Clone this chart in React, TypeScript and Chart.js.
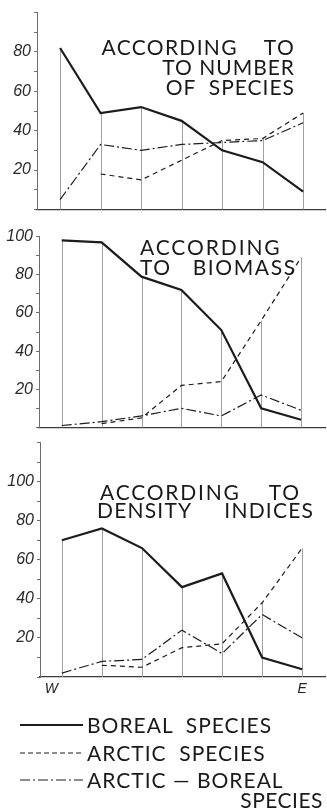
import React, { useEffect, useRef } from 'react';
import { Chart, registerables } from 'chart.js';

Chart.register(...registerables);

// ---- data ----
const STATIONS = ['W', '', '', '', '', '', 'E'];

const SPECIES_BOREAL = [82, 49, 52, 45, 30, 24, 9];
const SPECIES_ARCTIC = [null, 18, 15, 25, 35, 36, 49];
const SPECIES_ARCTIC_BOREAL = [5, 33, 30, 33, 34, 35, 44];

const BIOMASS_BOREAL = [98, 97, 79, 72, 51, 10, 4];
const BIOMASS_ARCTIC = [null, 2, 5, 22, 24, 56, 89];
const BIOMASS_ARCTIC_BOREAL = [1, 3, 6, 10, 6, 17, 9];

const DENSITY_BOREAL = [70, 76, 66, 46, 53, 10, 4];
const DENSITY_ARCTIC = [null, 6, 5, 15, 17, 38, 66];
const DENSITY_ARCTIC_BOREAL = [2, 8, 9, 24, 12, 32, 20];

const Y_TICK_LABELS_1 = [20, 40, 60, 80];
const Y_TICK_LABELS_2 = [20, 40, 60, 80, 100];
const Y_TICK_LABELS_3 = [20, 40, 60, 80, 100];

const INK = '#1c1c1c';
const AXIS = '#6e6e6e';

const toPoints = (arr: (number | null)[]) => arr.map((v, i) => ({ x: i, y: v }));

const dropLines = {
  id: 'dropLines',
  beforeDatasetsDraw(chart: any) {
    const { ctx, chartArea, scales } = chart;
    const n = chart.data.datasets[0].data.length;
    ctx.save();
    ctx.strokeStyle = '#a0a0a0';
    ctx.lineWidth = 1;
    for (let i = 0; i < n; i++) {
      let top = -Infinity;
      chart.data.datasets.forEach((ds: any) => {
        const p = ds.data[i];
        if (p && p.y != null) top = Math.max(top, p.y);
      });
      if (!isFinite(top)) continue;
      const x = Math.round(scales.x.getPixelForValue(i)) + 0.5;
      ctx.beginPath();
      ctx.moveTo(x, chartArea.bottom);
      ctx.lineTo(x, scales.y.getPixelForValue(top));
      ctx.stroke();
    }
    ctx.restore();
  },
};

type Panel = {
  top: number;
  height: number;
  padTop: number;
  padBottom: number;
  axisLeft: number;
  xMin: number;
  xMax: number;
  yMax: number;
  labels: number[];
  xAxisHeight: number;
  showX: boolean;
  axisDash: number[];
  boreal: (number | null)[];
  arctic: (number | null)[];
  arcticBoreal: (number | null)[];
};

function ChartPanel({ p }: { p: Panel }) {
  const ref = useRef<HTMLCanvasElement>(null);
  useEffect(() => {
    if (!ref.current) return;
    const chart = new Chart(ref.current, {
      type: 'line',
      data: {
        datasets: [
          {
            label: 'BOREAL SPECIES',
            data: toPoints(p.boreal),
            borderColor: INK,
            borderWidth: 2.2,
            pointRadius: 0,
            tension: 0,
          },
          {
            label: 'ARCTIC SPECIES',
            data: toPoints(p.arctic),
            borderColor: INK,
            borderWidth: 1.2,
            borderDash: [5, 4],
            pointRadius: 0,
            tension: 0,
          },
          {
            label: 'ARCTIC — BOREAL SPECIES',
            data: toPoints(p.arcticBoreal),
            borderColor: INK,
            borderWidth: 1.2,
            borderDash: [10, 3, 2, 3],
            pointRadius: 0,
            tension: 0,
          },
        ] as any,
      },
      options: {
        animation: false,
        responsive: false,
        maintainAspectRatio: false,
        layout: { padding: { left: 0, right: 327 - 325, top: p.padTop, bottom: p.padBottom } },
        plugins: { legend: { display: false }, tooltip: { enabled: false }, title: { display: false } },
        scales: {
          x: {
            type: 'linear',
            min: p.xMin,
            max: p.xMax,
            afterFit: (s: any) => {
              s.height = p.xAxisHeight;
            },
            afterBuildTicks: (s: any) => {
              s.ticks = STATIONS.map((_, i) => ({ value: i }));
            },
            ticks: {
              display: p.showX,
              autoSkip: false,
              maxRotation: 0,
              padding: 4,
              color: '#222',
              font: { family: 'Liberation Sans', style: 'italic', size: 14 },
              callback: (v: any) => {
                const l = STATIONS[Math.round(Number(v))] || '';
                return l === 'W' ? l + '\u2003\u2002' : l;
              },
            },
            grid: { display: false, drawTicks: false, tickLength: 0 },
            border: { display: true, color: '#3a3a3a', width: 1.3 },
          },
          y: {
            min: 0,
            max: p.yMax,
            afterFit: (s: any) => {
              s.width = p.axisLeft;
            },
            ticks: {
              stepSize: 10,
              autoSkip: false,
              padding: 3,
              color: '#2a2a2a',
              font: { family: 'Liberation Sans', style: 'italic', size: 16 },
              callback: (v: any) => (p.labels.includes(Number(v)) ? String(v) : ''),
            },
            grid: { drawOnChartArea: false, drawTicks: true, tickLength: 3, color: AXIS },
            border: { display: true, color: AXIS, width: 1, dash: p.axisDash },
          },
        },
      } as any,
      plugins: [dropLines],
    });
    return () => chart.destroy();
  }, [p]);
  return (
    <canvas
      ref={ref}
      width={327}
      height={p.height}
      style={{ position: 'absolute', left: 0, top: p.top, width: 327, height: p.height }}
    />
  );
}

const PANEL_1: Panel = {
  top: 0,
  height: 222,
  padTop: 3,
  padBottom: 9,
  axisLeft: 37,
  xMin: -0.57,
  xMax: 6.54,
  yMax: 100,
  labels: Y_TICK_LABELS_1,
  xAxisHeight: 0,
  showX: false,
  axisDash: [1, 3],
  boreal: SPECIES_BOREAL,
  arctic: SPECIES_ARCTIC,
  arcticBoreal: SPECIES_ARCTIC_BOREAL,
};

const PANEL_2: Panel = {
  top: 224,
  height: 216,
  padTop: 8,
  padBottom: 6,
  axisLeft: 39,
  xMin: -0.57,
  xMax: 6.6,
  yMax: 100,
  labels: Y_TICK_LABELS_2,
  xAxisHeight: 0,
  showX: false,
  axisDash: [2, 3],
  boreal: BIOMASS_BOREAL,
  arctic: BIOMASS_ARCTIC,
  arcticBoreal: BIOMASS_ARCTIC_BOREAL,
};

const PANEL_3: Panel = {
  top: 430,
  height: 300,
  padTop: 7,
  padBottom: 33,
  axisLeft: 40,
  xMin: -0.545,
  xMax: 6.57,
  yMax: 120,
  labels: Y_TICK_LABELS_3,
  xAxisHeight: 20,
  showX: true,
  axisDash: [],
  boreal: DENSITY_BOREAL,
  arctic: DENSITY_ARCTIC,
  arcticBoreal: DENSITY_ARCTIC_BOREAL,
};

const textBase: React.CSSProperties = {
  position: 'absolute',
  fontFamily: 'Lato, "Noto Sans", sans-serif',
  fontWeight: 400,
  fontSize: 21,
  lineHeight: '20px',
  letterSpacing: 1,
  color: '#1a1a1a',
  whiteSpace: 'pre',
};

function Txt({
  left,
  right,
  top,
  ls,
  children,
}: {
  left?: number;
  right?: number;
  top: number;
  ls?: number;
  children: React.ReactNode;
}) {
  const style: React.CSSProperties = { ...textBase, top };
  if (left != null) style.left = left;
  if (right != null) {
    style.right = right;
    style.textAlign = 'right';
  }
  if (ls != null) style.letterSpacing = ls;
  return <div style={style}>{children}</div>;
}

function LegendRow({ top, dash, width, label }: { top: number; dash: string; width: number; label: string }) {
  return (
    <>
      <svg width={66} height={6} style={{ position: 'absolute', left: 19, top: top + 4, overflow: 'visible' }}>
        <line x1={1} y1={3} x2={64} y2={3} stroke={INK} strokeWidth={width} strokeDasharray={dash} />
      </svg>
      <Txt left={87} top={top - 3}>
        {label}
      </Txt>
    </>
  );
}

export default function App() {
  return (
    <div
      style={{
        position: 'absolute',
        left: 0,
        top: 0,
        width: 327,
        height: 811,
        background: '#ffffff',
        overflow: 'hidden',
      }}
    >
      <ChartPanel p={PANEL_1} />
      <ChartPanel p={PANEL_2} />
      <ChartPanel p={PANEL_3} />

      <Txt right={32} top={37} ls={1.3}>
        {'ACCORDING    TO'}
      </Txt>
      <Txt right={32} top={57}>
        {'TO NUMBER'}
      </Txt>
      <Txt right={32} top={77}>
        {'OF  SPECIES'}
      </Txt>

      <Txt left={140} top={237} ls={1.9}>
        {'ACCORDING'}
      </Txt>
      <Txt left={140} top={257} ls={1.6}>
        {'TO   BIOMASS'}
      </Txt>

      <Txt left={100} top={482} ls={1.8}>
        {'ACCORDING    TO'}
      </Txt>
      <Txt left={97} top={500} ls={1.2}>
        {'DENSITY     INDICES'}
      </Txt>

      <LegendRow top={718} dash="" width={2.2} label="BOREAL  SPECIES" />
      <LegendRow top={746} dash="5 3" width={1.2} label="ARCTIC  SPECIES" />
      <LegendRow top={773} dash="10 3 2 3" width={1.2} label="ARCTIC — BOREAL" />
      <Txt right={4} top={790} ls={0.5}>
        SPECIES
      </Txt>
    </div>
  );
}
